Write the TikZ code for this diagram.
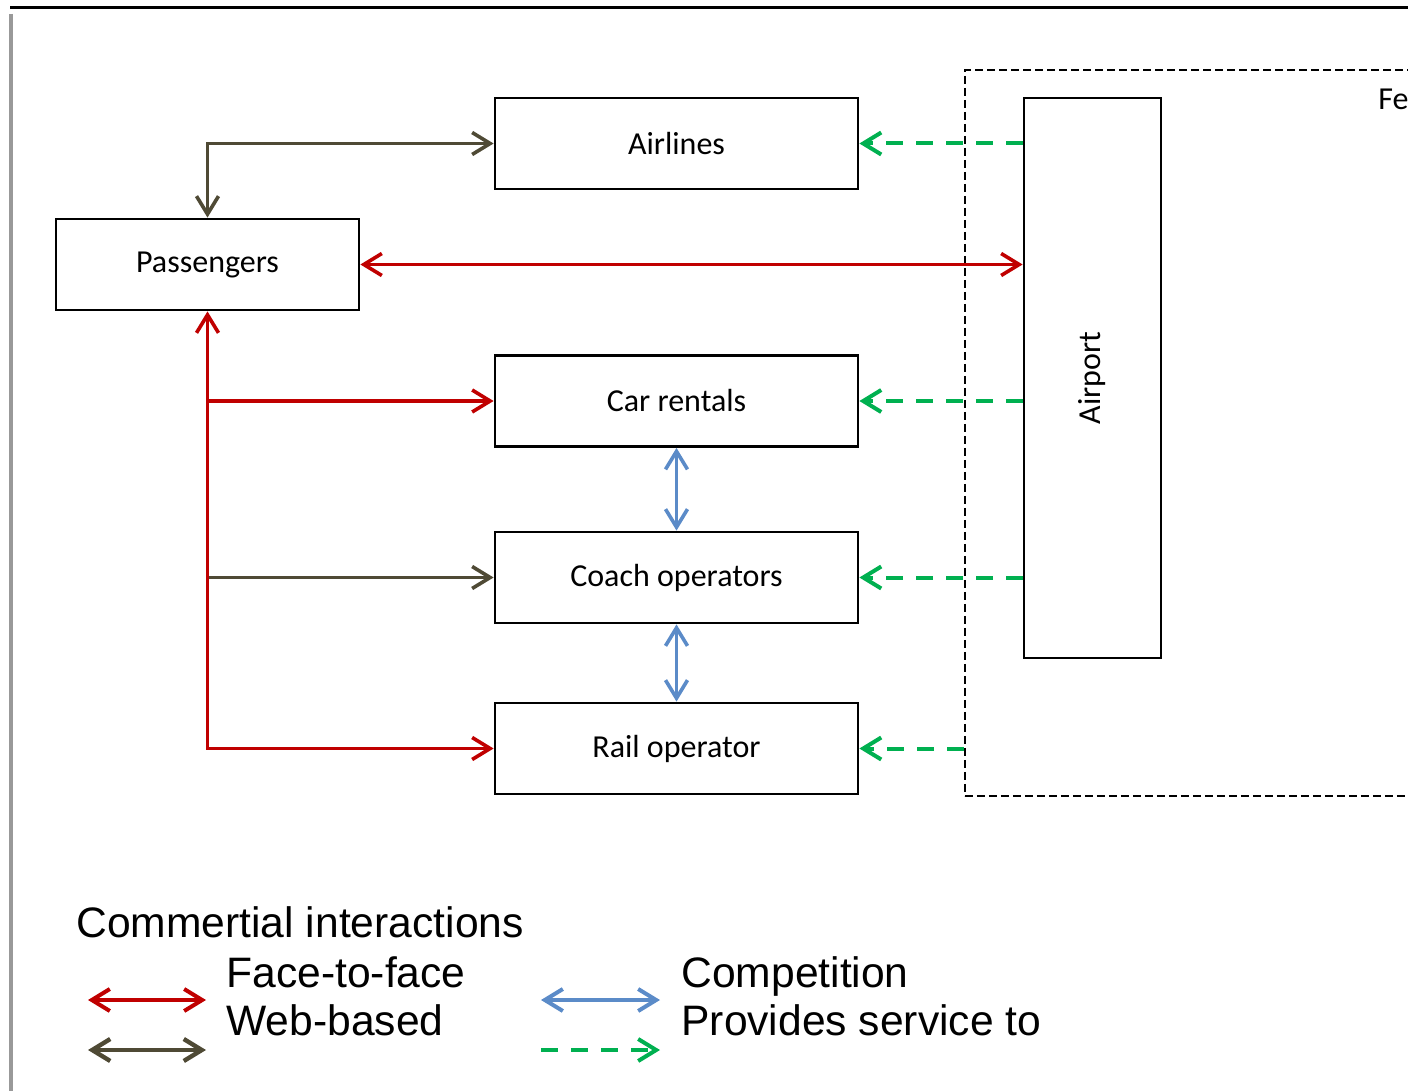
\documentclass[tikz,border=0pt]{standalone}
\usepackage{fontspec}
\usepackage{tikz}
\usetikzlibrary{arrows.meta,positioning}
\setmainfont{Liberation Sans}
\newfontfamily\boxfont{Carlito}
\newcommand\actorfont{\boxfont\fontsize{16}{19}\selectfont}
\definecolor{face}{HTML}{C00000}
\definecolor{web}{HTML}{4F4A35}
\definecolor{comp}{HTML}{5B8BC8}
\definecolor{serv}{HTML}{00B050}
\tikzset{
  actor/.style={draw, line width=1.4pt, minimum width=181.5pt, minimum height=45.5pt, font=\actorfont},
  link/.style={line width=1.8pt},
  servlink/.style={line width=2pt, dash pattern=on 8.5pt off 6.5pt},
  legend/.style={inner sep=0pt, anchor=base west, font=\fontsize{21.3}{25}\selectfont}
}

\begin{document}
\begin{tikzpicture}[x=0.5pt, y=-0.5pt, >={Straight Barb[length=9pt,width=11pt]}]
  \useasboundingbox (0,0) rectangle (1408,1091);
  \clip (0,0) rectangle (1408,1091);
  % page edges
  \draw[line width=1.5pt] (10,8) -- (1408,8);
  \draw[line width=2pt, black!40] (11,14) -- (11,1091);
  % group frame, cut off on the right
  \node[draw, line width=0.9pt, dash pattern=on 4pt off 2pt, anchor=north west, minimum width=300pt, minimum height=363pt] (fe) at (964,69) {};
  \node[anchor=base west, inner sep=0pt, font=\actorfont] (felbl) at (1378,110) {Fe};

  \node[actor] (air) at (676.5,143.5) {Airlines};
  \node[actor, minimum width=151.5pt] (pass) at (207.5,264.5) {Passengers};
  \node[actor] (car) at (676.5,401) {Car rentals};
  \node[actor] (coach) at (676.5,577.5) {Coach operators};
  \node[actor] (rail) at (676.5,748.5) {Rail operator};
  \node[actor, minimum width=68.5pt, minimum height=280pt, label={[rotate=90, font=\actorfont]center:Airport}] (port) at (1092.5,378) {};

  \draw[web, link, <->] (pass.north) |- (air.west);
  \draw[face, link, <->] (pass.east) -- (pass.east -| port.west);
  \draw[web, link, ->] (pass.south |- coach.west) -- (coach.west);
  \draw[face, link, <->] (pass.south) |- (rail.west);
  \draw[face, link, ->] (pass.south |- car.west) -- (car.west);
  \draw[comp, link, <->] (car.south) -- (coach.north);
  \draw[comp, link, <->] (coach.south) -- (rail.north);
  \draw[serv, servlink, ->] (port.west |- air.east) -- (air.east);
  \draw[serv, servlink, ->] (port.west |- car.east) -- (car.east);
  \draw[serv, servlink, ->] (port.west |- coach.east) -- (coach.east);
  \draw[serv, servlink, ->] (fe.west |- rail.east) -- (rail.east);

  % legend
  \node[legend] (legtitle) at (76,937) {Commertial interactions};
  \node[legend] (f2f) at (226,987) {Face-to-face};
  \node[legend] (webtxt) at (226,1035) {Web-based};
  \node[legend] (comptxt) at (681,987) {Competition};
  \node[legend] (servtxt) at (681,1035) {Provides service to};
  \coordinate (kfa) at (88,1000);  \coordinate (kfb) at (206,1000);
  \coordinate (kwa) at (88,1050);  \coordinate (kwb) at (206,1050);
  \coordinate (kca) at (541,1000); \coordinate (kcb) at (660,1000);
  \coordinate (ksa) at (541,1050); \coordinate (ksb) at (660,1050);
  \draw[face, line width=2pt, <->] (kfa) -- (kfb);
  \draw[web, line width=2.2pt, <->] (kwa) -- (kwb);
  \draw[comp, line width=2pt, <->] (kca) -- (kcb);
  \draw[serv, servlink, ->] (ksa) -- (ksb);
\end{tikzpicture}
\end{document}
